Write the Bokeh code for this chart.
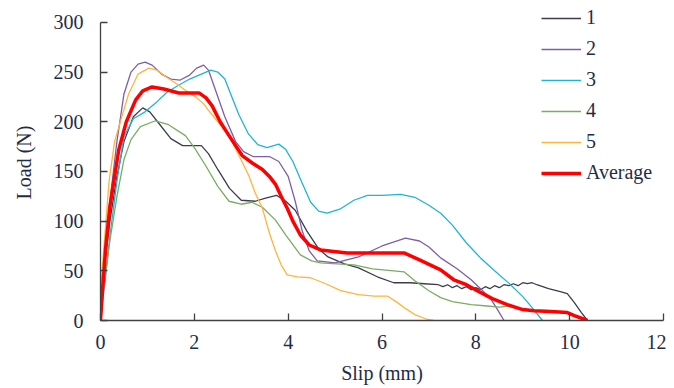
from bokeh.plotting import figure
from bokeh.models import Range1d, Legend, LegendItem, FixedTicker
from bokeh.embed import file_html
from bokeh.resources import INLINE

# ---- data ----
x1 = [0, 0.1, 0.2, 0.35, 0.5, 0.7, 0.9, 1.05, 1.25, 1.5, 1.75, 2.15, 2.3, 2.5, 2.75, 3.0, 3.3, 3.5, 3.75, 3.95,
      4.15, 4.4, 4.65, 4.85, 5.2, 5.5, 5.9, 6.25, 6.6, 6.9, 7.2, 7.3, 7.4, 7.5, 7.6, 7.7, 7.8, 7.9, 8.0, 8.1, 8.2,
      8.3, 8.4, 8.5, 8.6, 8.7, 8.8, 8.9, 9.0, 9.1, 9.2, 9.3, 9.55, 9.8, 9.95, 10.1, 10.25, 10.38]
y1 = [25, 60, 100, 145, 180, 205, 214, 210, 198, 183, 176, 176, 168, 152, 133, 121, 120, 123, 126, 120,
      111, 90, 72, 64, 57, 53, 44, 38, 38, 37, 36, 34, 36, 33, 35, 32, 34, 31, 33, 31, 34,
      32, 35, 33, 36, 35, 37, 35, 38, 37, 38, 36, 32, 29, 27, 18, 8, 0]

x2 = [0, 0.1, 0.2, 0.35, 0.5, 0.65, 0.8, 0.95, 1.1, 1.3, 1.5, 1.7, 1.9, 2.05, 2.2, 2.3, 2.45, 2.65, 2.88, 3.05,
      3.25, 3.6, 3.8, 4.0, 4.15, 4.3, 4.45, 4.62, 5.0, 5.5, 6.0, 6.5, 6.8, 7.0, 7.25, 7.6, 7.9, 8.1, 8.3, 8.45, 8.6]
y2 = [15, 70, 120, 180, 228, 250, 258, 260, 257, 248, 243, 242, 247, 254, 257, 252, 232, 205, 180, 170,
      165, 165, 160, 145, 120, 90, 70, 60, 58, 64, 75, 83, 80, 74, 63, 52, 41, 32, 23, 12, 0]

x3 = [0, 0.1, 0.2, 0.35, 0.5, 0.7, 0.95, 1.2, 1.4, 1.6, 1.9, 2.1, 2.35, 2.5, 2.65, 2.8, 2.95, 3.15, 3.35, 3.55,
      3.8, 3.95, 4.1, 4.3, 4.48, 4.65, 4.83, 5.1, 5.4, 5.69, 6.0, 6.4, 6.7, 7.0, 7.25, 7.5, 7.8, 8.1, 8.4, 8.74,
      9.0, 9.2, 9.42]
y3 = [5, 40, 85, 140, 185, 203, 210, 220, 229, 235, 243, 247, 252, 250, 243, 225, 207, 188, 177, 174,
      177.5, 172, 160, 138, 119, 110, 108, 112, 121, 126, 126, 127, 124, 116, 108, 96, 78, 63, 50, 36,
      24, 13, 0]

x4 = [0, 0.1, 0.2, 0.35, 0.5, 0.65, 0.85, 1.17, 1.45, 1.81, 2.0, 2.24, 2.5, 2.74, 3.0, 3.23, 3.45, 3.73, 3.95,
      4.26, 4.5, 4.69, 5.4, 5.8, 6.25, 6.47, 6.7, 7.0, 7.25, 7.5, 7.9, 8.24, 8.5, 8.78]
y4 = [10, 45, 80, 125, 162, 182, 195, 201, 197, 186, 174, 156, 135, 120, 117, 119, 114, 101, 86,
      66, 60, 58, 56, 52, 50, 49, 40, 30, 23, 19, 16, 14.6, 13.5, 14.6]

x5 = [0, 0.1, 0.18, 0.3, 0.46, 0.6, 0.8, 1.03, 1.2, 1.4, 1.6, 1.8, 2.03, 2.2, 2.31, 2.5, 2.74, 2.95, 3.16, 3.3,
      3.45, 3.6, 3.73, 3.85, 3.98, 4.2, 4.48, 4.8, 5.12, 5.5, 5.83, 6.11, 6.3, 6.47, 6.7, 6.97, 7.1]
y5 = [30, 90, 139, 180, 206, 228, 248, 254, 252, 245, 239, 232, 225, 218, 211, 200, 186, 166, 146, 128,
      113, 88, 70, 56, 46, 44, 43, 37, 30, 26, 24.6, 24.6, 19, 13, 6, 1, 0]

xa = [0, 0.05, 0.11, 0.2, 0.39, 0.55, 0.75, 0.9, 1.1, 1.35, 1.67, 2.1, 2.25, 2.38, 2.55, 2.74, 3.02, 3.25, 3.45,
      3.6, 3.73, 3.85, 3.98, 4.1, 4.26, 4.45, 4.69, 5.26, 6.0, 6.47, 6.8, 7.25, 7.53, 7.8, 8.03, 8.35, 8.67, 9.0,
      9.24, 9.6, 9.95, 10.1, 10.38]
ya = [0, 35, 73, 115, 172, 200, 222, 231, 235, 233, 229, 229, 224, 216, 200, 186, 166, 158, 152,
      145, 137, 125, 113, 100, 86, 76, 71, 68, 68, 68, 61, 51, 41, 36, 30, 22, 16, 11,
      9.7, 9, 8, 5, 0]

names = ["1", "2", "3", "4", "5", "Average"]
colors = ["#3c3c4e", "#7d5fa6", "#1fb4d6", "#7aad62", "#ffb43c", "#ff0000"]
widths = [1.3, 1.3, 1.3, 1.3, 1.3, 3.5]
x_ticks = [0, 2, 4, 6, 8, 10, 12]
y_ticks = [0, 50, 100, 150, 200, 250, 300]

TEXT = "#1f2c48"
FONT = "Liberation Serif"
FS = "20px"

# y range extends a little above 300 so the legend has room; the axis line stops at 300
p = figure(width=666, height=386, output_backend="svg", toolbar_location=None,
           x_range=Range1d(0, 12), y_range=Range1d(0, 318),
           min_border_left=100, min_border_right=3, min_border_top=4, min_border_bottom=63)
p.outline_line_color = None
p.xgrid.visible = False
p.ygrid.visible = False

items = []
series = [(x1, y1), (x2, y2), (x3, y3), (x4, y4), (x5, y5), (xa, ya)]
for (xs, ys), n, c, w in zip(series, names, colors, widths):
    r = p.line(xs, ys, line_color=c, line_width=w, line_join="round")
    items.append(LegendItem(label=n, renderers=[r]))

for ax in (p.xaxis[0], p.yaxis[0]):
    ax.axis_line_color = "#404040"
    ax.axis_line_width = 1.3
    ax.major_tick_line_color = "#404040"
    ax.major_tick_line_width = 1.3
    ax.major_tick_in = 7
    ax.major_tick_out = 0
    ax.minor_tick_line_color = None
    ax.major_label_text_font = FONT
    ax.major_label_text_font_size = FS
    ax.major_label_text_color = TEXT
    ax.axis_label_text_font = FONT
    ax.axis_label_text_font_size = FS
    ax.axis_label_text_color = TEXT
    ax.axis_label_text_font_style = "normal"

p.yaxis.bounds = (0, 300)
p.xaxis.ticker = FixedTicker(ticks=x_ticks)
p.yaxis.ticker = FixedTicker(ticks=y_ticks)
p.xaxis.axis_label = "Slip (mm)"
p.yaxis.axis_label = "Load (N)"
p.xaxis.major_label_standoff = 14
p.yaxis.major_label_standoff = 17
p.xaxis.axis_label_standoff = 10
p.yaxis.axis_label_standoff = 16

legend = Legend(items=items, location=(441, 136), orientation="vertical")
legend.background_fill_alpha = 0
legend.border_line_color = None
legend.padding = 0
legend.margin = 0
legend.spacing = 8
legend.glyph_width = 40
legend.glyph_height = 20
legend.label_height = 20
legend.label_standoff = 5
legend.label_text_font = FONT
legend.label_text_font_size = FS
legend.label_text_color = TEXT
p.add_layout(legend, "center")

open("out.html", "w").write(file_html(p, INLINE))
